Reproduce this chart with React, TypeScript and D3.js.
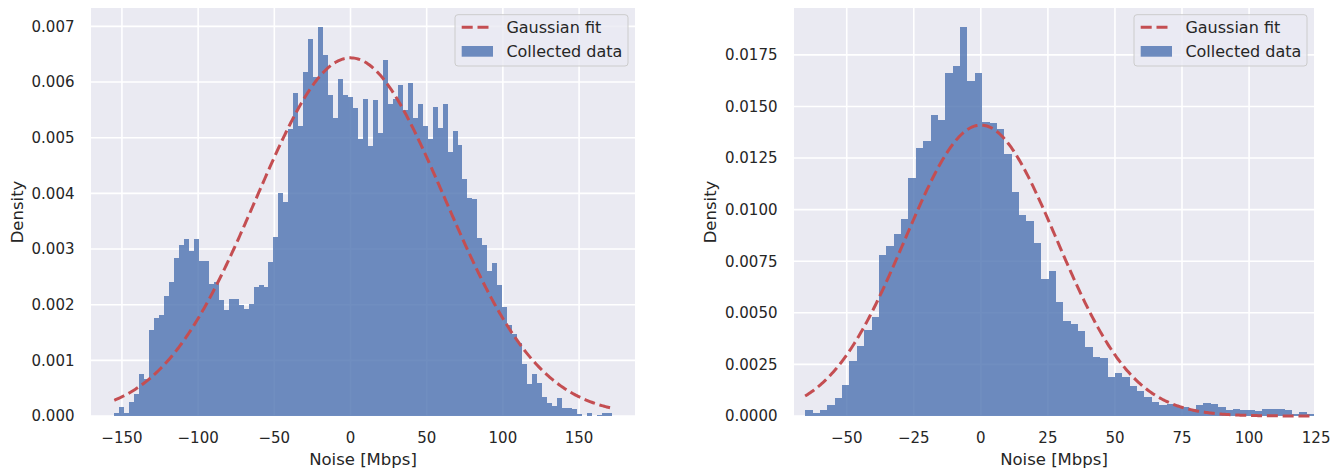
import React from 'react';
import * as d3 from 'd3';

// Histogram densities (units of 1e-3), equal-width bins
const leftDensity = [
  0.05, 0.17, 0.06, 0.26, 0.39, 0.75, 0.67, 1.54, 1.76, 1.81,
  2.15, 2.41, 2.83, 3.08, 3.18, 2.96, 3.18, 2.78, 2.78, 2.37,
  2.40, 2.08, 1.91, 2.11, 2.11, 1.99, 1.93, 2.01, 2.31, 2.35,
  2.32, 2.76, 3.21, 4.01, 3.84, 5.16, 5.80, 5.21, 6.18, 6.77,
  6.09, 6.98, 6.48, 5.76, 5.36, 6.05, 5.76, 5.74, 5.53, 4.98,
  5.69, 4.85, 5.68, 5.08, 6.39, 5.60, 5.70, 5.95, 5.50, 5.99,
  5.35, 5.60, 5.21, 4.98, 5.56, 5.17, 5.60, 4.74, 5.12, 4.87,
  4.26, 3.91, 3.89, 3.20, 3.08, 2.60, 2.74, 2.36, 1.95, 1.63,
  1.48, 1.32, 0.94, 0.57, 0.75, 0.59, 0.35, 0.24, 0.18, 0.33,
  0.14, 0.14, 0.13, 0.04, 0.0, 0.06, 0.0, 0.01, 0.05, 0.06,
];
const rightDensity = [
  0.29, 0.15, 0.31, 0.52, 0.89, 1.52, 2.66, 3.38, 4.17, 4.81,
  7.78, 8.24, 8.82, 9.53, 11.55, 13.0, 13.34, 14.6, 14.32, 16.6,
  16.97, 18.85, 16.23, 16.62, 14.23, 14.2, 13.92, 12.68, 10.87, 9.75,
  9.46, 8.37, 6.64, 7.02, 5.50, 4.58, 4.46, 4.13, 3.32, 2.87,
  2.81, 1.90, 2.10, 1.90, 1.47, 1.23, 0.94, 0.66, 0.55, 0.58,
  0.50, 0.42, 0.34, 0.53, 0.65, 0.57, 0.42, 0.31, 0.36, 0.29,
  0.29, 0.26, 0.32, 0.36, 0.36, 0.29, 0.10, 0.21, 0.08,
];
const leftBinRange = [-155, 171.4];
const rightBinRange = [-65.5, 124.2];
const leftFit = [0, 62]; // mean, std
const rightFit = [0, 28.3];
const leftXTicks = [-150, -100, -50, 0, 50, 100, 150];
const rightXTicks = [-50, -25, 0, 25, 50, 75, 100, 125];
const leftYTicks = [0, 0.001, 0.002, 0.003, 0.004, 0.005, 0.006, 0.007];
const rightYTicks = [0, 0.0025, 0.005, 0.0075, 0.01, 0.0125, 0.015, 0.0175];
const legendLabels = ['Gaussian fit', 'Collected data'];
const xLabel = 'Noise [Mbps]';
const yLabel = 'Density';

const FONT = 'DejaVu Sans';
const TXT = '#262626';
const BAR = '#4C72B0';
const FIT = '#C44E52';

function fmtMinus(s: string) {
  return s.replace('-', '\u2212');
}

function Panel(props: any) {
  const { left, right, top, bottom, xDomain, yMax, xTicks, yTicks, yFmt, density, binRange, fit, yLabelX } = props;
  const xs = d3.scaleLinear().domain(xDomain).range([left, right]);
  const ys = d3.scaleLinear().domain([0, yMax]).range([bottom, top]);
  const n = density.length;
  const bw = (binRange[1] - binRange[0]) / n;
  const [mu, sd] = fit;
  const pdf = (x: number) => Math.exp(-((x - mu) ** 2) / (2 * sd * sd)) / (sd * Math.sqrt(2 * Math.PI));
  const pts = d3.range(0, 401).map((i) => binRange[0] + ((binRange[1] - binRange[0]) * i) / 400);
  const line = d3.line<number>().x((d) => xs(d)).y((d) => ys(pdf(d)));
  const fmt = d3.format(yFmt);
  const lx = right - 7 - 173;
  const ly = 14.7;
  return (
    <g>
      <rect x={left} y={top} width={right - left} height={bottom - top} fill="#EAEAF2" />
      {xTicks.map((t: number) => (
        <line key={'gx' + t} x1={xs(t)} x2={xs(t)} y1={top} y2={bottom} stroke="#fff" strokeWidth={1.6} />
      ))}
      {yTicks.map((t: number) => (
        <line key={'gy' + t} x1={left} x2={right} y1={ys(t)} y2={ys(t)} stroke="#fff" strokeWidth={1.6} />
      ))}
      {density.map((v: number, i: number) => {
        const x0 = binRange[0] + i * bw;
        const x1 = x0 + bw;
        const val = v / 1000;
        return (
          <rect
            key={'b' + i}
            x={xs(x0)}
            width={xs(x1) - xs(x0)}
            y={ys(val)}
            height={ys(0) - ys(val)}
            fill={BAR}
            fillOpacity={0.8}
            shapeRendering="crispEdges"
          />
        );
      })}
      <path d={line(pts) || ''} fill="none" stroke={FIT} strokeWidth={3} strokeDasharray="11,4.8" />
      <g>
        <rect x={lx} y={ly} width={173} height={51.3} rx={3} fill="#EAEAF2" fillOpacity={0.8} stroke="#CCCCCC" strokeWidth={1} />
        <line x1={lx + 6.7} x2={lx + 38} y1={ly + 12.6} y2={ly + 12.6} stroke={FIT} strokeWidth={3} strokeDasharray="11,4.8" />
        <rect x={lx + 6.7} y={ly + 31.3} width={31.3} height={10.7} fill={BAR} fillOpacity={0.8} />
        <text x={lx + 51.4} y={ly + 18.2} fontFamily={FONT} fontSize={16} fill={TXT}>{legendLabels[0]}</text>
        <text x={lx + 51.4} y={ly + 41.9} fontFamily={FONT} fontSize={16} fill={TXT}>{legendLabels[1]}</text>
      </g>
      {xTicks.map((t: number) => (
        <text key={'tx' + t} x={xs(t)} y={442.5} textAnchor="middle" fontFamily={FONT} fontSize={15} fill={TXT}>
          {fmtMinus(String(t))}
        </text>
      ))}
      {yTicks.map((t: number) => (
        <text key={'ty' + t} x={left - 16.5} y={ys(t) + 5.4} textAnchor="end" fontFamily={FONT} fontSize={15} fill={TXT}>
          {fmt(t)}
        </text>
      ))}
      <text x={(left + right) / 2} y={465} textAnchor="middle" fontFamily={FONT} fontSize={16.5} fill={TXT}>
        {xLabel}
      </text>
      <text
        transform={`translate(${yLabelX},${(top + bottom) / 2}) rotate(-90)`}
        textAnchor="middle"
        fontFamily={FONT}
        fontSize={16.5}
        fill={TXT}
      >
        {yLabel}
      </text>
    </g>
  );
}

export default function App() {
  return (
    <svg width={1344} height={468} style={{ position: 'absolute', left: 0, top: 0, background: '#fff' }}>
      <Panel
        left={91}
        right={635}
        top={8}
        bottom={416}
        xDomain={[-170.3, 186.7]}
        yMax={0.00733}
        xTicks={leftXTicks}
        yTicks={leftYTicks}
        yFmt=".3f"
        density={leftDensity}
        binRange={leftBinRange}
        fit={leftFit}
        yLabelX={23}
      />
      <Panel
        left={794}
        right={1314}
        top={8}
        bottom={416}
        xDomain={[-69.65, 124.2]}
        yMax={0.01977}
        xTicks={rightXTicks}
        yTicks={rightYTicks}
        yFmt=".4f"
        density={rightDensity}
        binRange={rightBinRange}
        fit={rightFit}
        yLabelX={716}
      />
    </svg>
  );
}
